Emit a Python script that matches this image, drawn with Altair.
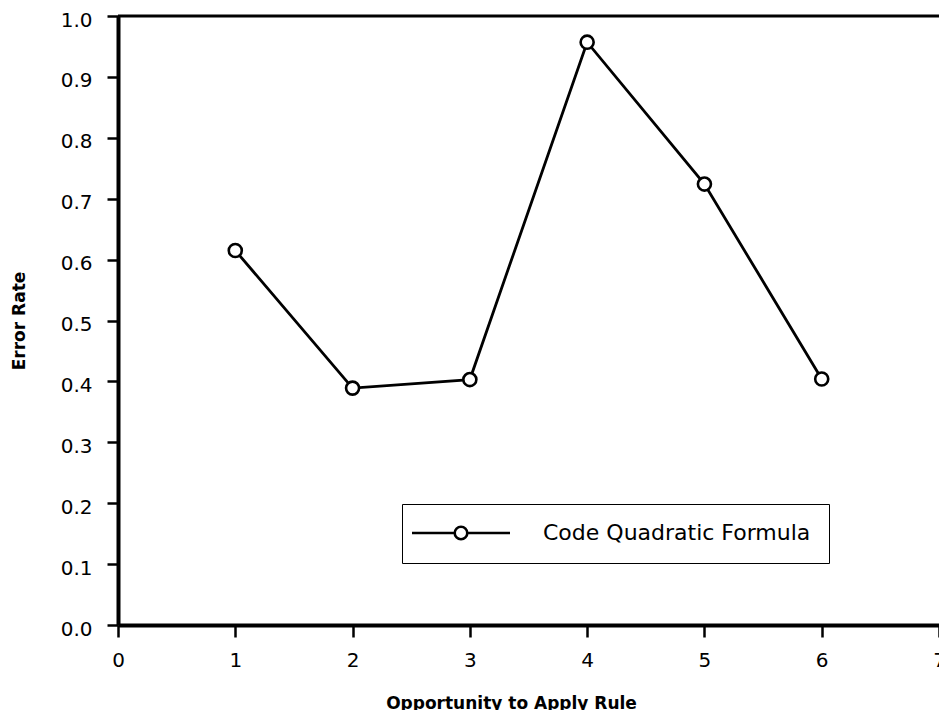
import altair as alt
import pandas as pd

opportunity = [1, 2, 3, 4, 5, 6]
error_rate = [0.615, 0.389, 0.403, 0.957, 0.724, 0.404]
series_name = "Code Quadratic Formula"

x_ticks = [0, 0.5, 1, 1.5, 2, 2.5, 3, 3.5, 4, 4.5, 5, 5.5, 6, 6.5, 7]
y_ticks = [0.0, 0.05, 0.1, 0.15, 0.2, 0.25, 0.3, 0.35, 0.4, 0.45, 0.5,
           0.55, 0.6, 0.65, 0.7, 0.75, 0.8, 0.85, 0.9, 0.95, 1.0]
x_domain = [0, 7]
y_domain = [0.0, 1.0]

df = pd.DataFrame({"x": opportunity, "y": error_rate, "series": [series_name] * len(opportunity)})

FONT = "DejaVu Sans"
xscale = alt.Scale(domain=x_domain, nice=False, zero=False)
yscale = alt.Scale(domain=y_domain, nice=False, zero=False)

x_major_test = "abs(datum.value - round(datum.value)) < 0.001"
y_major_test = "round(datum.value * 20) % 2 === 0"

legend_path = ("M-7,0 H-0.9 M0.9,0 H7 "
               "M0.9,0 A0.9,0.9 0 1,1 -0.9,0 A0.9,0.9 0 1,1 0.9,0 Z")

base = alt.Chart(df)

line = base.mark_line(color="black", strokeWidth=2.8).encode(
    x=alt.X("x:Q", scale=xscale,
            axis=alt.Axis(values=x_ticks, format="d", title="Opportunity to Apply Rule",
                          orient="bottom", grid=False, labelFlush=False,
                          tickSize={"condition": {"test": x_major_test, "value": 12}, "value": 6},
                          labelExpr=f"({x_major_test}) ? format(datum.value, 'd') : ''",
                          tickWidth=2.5, tickColor="black",
                          domainColor="black", domainWidth=4, labelFontSize=20,
                          labelFont=FONT, labelColor="black", labelPadding=13,
                          titleFont=FONT, titleFontSize=17, titleFontWeight="bold",
                          titleColor="black", titlePadding=25, titleX=393)),
    y=alt.Y("y:Q", scale=yscale,
            axis=alt.Axis(values=y_ticks, format=".1f", title="Error Rate", orient="left",
                          grid=False, labelFlush=False,
                          tickSize={"condition": {"test": y_major_test, "value": 11}, "value": 5},
                          labelExpr=f"({y_major_test}) ? datum.label : ''",
                          tickWidth=2.5, tickColor="black",
                          domainColor="black", domainWidth=4, labelFontSize=20,
                          labelFont=FONT, labelColor="black", labelPadding=15, labelOffset=4,
                          titleFont=FONT, titleFontSize=17, titleFontWeight="bold",
                          titleColor="black", titlePadding=32)),
    stroke=alt.Stroke("series:N", scale=alt.Scale(range=["black"]),
                      legend=alt.Legend(title=None, orient="none", legendX=284, legendY=488,
                                        symbolType=legend_path, symbolSize=196,
                                        symbolStrokeWidth=2.6, symbolFillColor="white",
                                        symbolStrokeColor="black", symbolOffset=30,
                                        labelFont=FONT, labelFontSize=22, labelColor="black",
                                        labelOffset=71, labelLimit=0, padding=18,
                                        strokeColor="black", fillColor="white")),
)

points = base.mark_point(shape="circle", filled=True, fill="white", stroke="black",
                         strokeWidth=2.6, size=170, opacity=1).encode(
    x=alt.X("x:Q", scale=xscale),
    y=alt.Y("y:Q", scale=yscale),
)

top_line = alt.Chart(pd.DataFrame({"x0": [x_domain[0]], "x1": [x_domain[1]], "yt": [y_domain[1]]})).mark_rule(
    color="black", strokeWidth=3).encode(
    x=alt.X("x0:Q", scale=xscale),
    x2="x1:Q",
    y=alt.Y("yt:Q", scale=yscale),
)

chart = alt.layer(line, top_line, points).properties(
    width=821, height=609,
    autosize=alt.AutoSizeParams(type="none"),
    padding={"left": 110, "top": 8, "right": 0, "bottom": 85},
).configure_view(stroke=None).configure_legend(strokeWidth=3).configure(background="white")

chart.save("out.html", embed_options={"renderer": "svg", "actions": False})
